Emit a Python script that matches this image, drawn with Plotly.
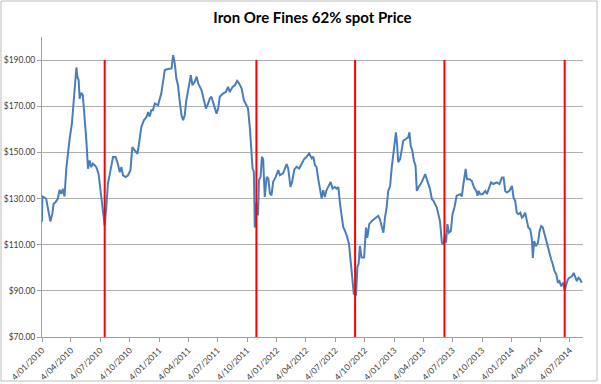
import plotly.graph_objects as go

dates = [
 "2010-01-04","2010-01-05","2010-01-17","2010-01-22","2010-01-30","2010-02-05","2010-02-09","2010-02-15","2010-02-22","2010-02-28",
 "2010-03-05","2010-03-10","2010-03-15","2010-03-21","2010-03-26","2010-03-31","2010-04-07","2010-04-10","2010-04-15","2010-04-21",
 "2010-04-24","2010-04-28","2010-05-01","2010-05-06","2010-05-11","2010-05-17","2010-05-22","2010-05-27","2010-06-01","2010-06-06",
 "2010-06-11","2010-06-17","2010-06-22","2010-06-29","2010-07-05","2010-07-13","2010-07-18","2010-07-23","2010-07-28","2010-08-05",
 "2010-08-13","2010-08-21","2010-08-28","2010-09-03","2010-09-08","2010-09-13","2010-09-21","2010-09-28","2010-10-06","2010-10-12",
 "2010-10-19","2010-10-28","2010-11-04","2010-11-09","2010-11-17","2010-11-25","2010-11-30","2010-12-05","2010-12-10","2010-12-15",
 "2010-12-21","2010-12-31","2011-01-10","2011-01-15","2011-01-21","2011-01-31","2011-02-11","2011-02-16","2011-02-21","2011-02-26",
 "2011-03-03","2011-03-08","2011-03-14","2011-03-19","2011-03-24","2011-03-29","2011-04-06","2011-04-12","2011-04-17","2011-04-24",
 "2011-04-30","2011-05-05","2011-05-15","2011-05-20","2011-05-29","2011-06-05","2011-06-10","2011-06-15","2011-06-20","2011-06-26",
 "2011-07-01","2011-07-06","2011-07-11","2011-07-21","2011-07-30","2011-08-06","2011-08-11","2011-08-20","2011-08-27","2011-09-03",
 "2011-09-09","2011-09-17","2011-09-24","2011-10-02","2011-10-07","2011-10-13","2011-10-18","2011-10-21","2011-10-25","2011-10-28",
 "2011-11-02","2011-11-07","2011-11-10","2011-11-15","2011-11-19","2011-11-23","2011-11-28","2011-12-04","2011-12-09","2011-12-14",
 "2011-12-19","2011-12-24","2012-01-01","2012-01-09","2012-01-14","2012-01-24","2012-02-04","2012-02-09","2012-02-16","2012-02-21",
 "2012-02-28","2012-03-06","2012-03-14","2012-03-22","2012-03-29","2012-04-06","2012-04-14","2012-04-22","2012-04-27","2012-05-02",
 "2012-05-07","2012-05-12","2012-05-18","2012-05-23","2012-05-28","2012-06-02","2012-06-07","2012-06-12","2012-06-20","2012-06-26",
 "2012-07-03","2012-07-09","2012-07-14","2012-07-19","2012-07-24","2012-07-29","2012-08-03","2012-08-09","2012-08-16","2012-08-21",
 "2012-08-26","2012-08-31","2012-09-07","2012-09-11","2012-09-15","2012-09-19","2012-09-24","2012-10-02","2012-10-08","2012-10-12",
 "2012-10-18","2012-10-26","2012-11-02","2012-11-10","2012-11-15","2012-11-20","2012-11-26","2012-12-01","2012-12-06","2012-12-11",
 "2012-12-16","2012-12-22","2012-12-27","2013-01-01","2013-01-04","2013-01-09","2013-01-13","2013-01-16","2013-01-22","2013-01-27",
 "2013-02-01","2013-02-09","2013-02-16","2013-02-20","2013-02-24","2013-03-01","2013-03-06","2013-03-11","2013-03-15","2013-03-20",
 "2013-03-30","2013-04-10","2013-04-15","2013-04-25","2013-05-01","2013-05-06","2013-05-16","2013-05-21","2013-05-26","2013-06-01",
 "2013-06-06","2013-06-11","2013-06-14","2013-06-18","2013-06-23","2013-06-29","2013-07-04","2013-07-10","2013-07-17","2013-07-28",
 "2013-08-02","2013-08-07","2013-08-14","2013-08-18","2013-08-26","2013-09-02","2013-09-09","2013-09-16","2013-09-20","2013-09-23",
 "2013-09-28","2013-10-06","2013-10-14","2013-10-19","2013-10-27","2013-11-01","2013-11-08","2013-11-19","2013-11-27","2013-12-05",
 "2013-12-10","2013-12-15","2013-12-20","2013-12-28","2014-01-05","2014-01-10","2014-01-15","2014-01-20","2014-01-25","2014-01-31",
 "2014-02-05","2014-02-10","2014-02-15","2014-02-20","2014-02-25","2014-03-03","2014-03-08","2014-03-11","2014-03-15","2014-03-21",
 "2014-03-27","2014-04-01","2014-04-06","2014-04-11","2014-04-16","2014-04-22","2014-04-27","2014-05-02","2014-05-07","2014-05-12",
 "2014-05-17","2014-05-23","2014-05-28","2014-06-02","2014-06-07","2014-06-13","2014-06-18","2014-06-23","2014-06-28","2014-07-03",
 "2014-07-11","2014-07-16","2014-07-21","2014-07-26","2014-07-31","2014-08-05","2014-08-10",
]

prices = [
 120.0,131.0,129.9,126.2,120.1,123.3,127.7,128.4,129.9,133.8,
 132.0,134.2,130.9,143.6,150.9,155.9,162.5,167.5,177.7,186.8,
 182.8,181.3,173.3,175.8,174.8,165.3,155.2,142.9,146.5,143.6,
 145.1,144.4,143.6,140.7,133.5,121.9,118.3,126.2,136.4,142.2,
 148.0,148.0,145.1,141.4,143.6,140.0,139.3,140.0,142.2,152.3,
 150.9,149.4,155.9,161.0,163.9,165.3,167.5,165.5,168.3,168.3,
 171.2,170.4,175.5,179.9,185.7,186.1,186.4,192.2,188.6,182.0,
 179.1,172.6,166.1,163.9,166.1,172.6,179.9,183.5,179.1,180.6,
 182.8,179.9,177.0,174.1,169.0,171.2,173.3,174.1,171.9,169.0,
 166.8,169.0,174.1,175.5,176.2,178.4,176.2,178.4,179.1,181.0,
 179.9,177.7,172.6,170.4,169.0,160.0,150.9,143.0,141.6,117.5,
 128.0,122.7,138.0,139.4,148.1,147.0,130.7,139.4,138.7,132.2,
 131.4,137.2,139.4,142.3,140.1,140.9,144.9,143.0,135.0,137.2,
 142.6,143.7,143.0,145.2,147.0,148.1,149.6,147.4,148.1,144.5,
 143.7,138.7,132.9,130.0,133.6,130.7,133.6,135.0,137.2,134.3,
 135.0,134.3,135.0,127.8,123.5,117.7,116.2,114.0,110.4,103.2,
 95.9,88.7,88.0,100.3,101.7,109.5,104.4,104.4,117.4,113.0,
 118.9,120.3,121.0,121.7,122.5,121.0,118.1,115.2,121.7,126.1,
 133.3,135.5,143.5,149.3,153.7,158.7,152.9,145.7,147.1,152.2,
 155.1,155.8,156.5,158.7,152.9,150.7,146.4,144.2,133.3,134.8,
 137.0,140.6,138.4,134.1,129.7,129.0,126.1,123.2,120.3,110.9,
 110.2,114.5,110.9,118.9,115.2,115.9,123.2,126.1,131.2,131.9,
 130.9,136.3,142.8,138.4,138.4,137.7,134.8,133.3,131.2,133.3,
 131.9,131.9,133.3,131.9,134.8,137.0,136.3,137.0,136.3,139.1,
 139.1,133.3,132.6,133.3,135.5,130.4,129.0,123.9,123.2,123.9,
 121.7,122.4,123.9,120.3,117.4,116.7,112.3,104.3,111.6,109.4,
 110.9,116.0,118.1,117.4,114.5,111.6,108.7,105.8,103.6,101.5,
 98.6,97.1,93.5,94.2,92.0,93.5,90.0,92.8,95.0,95.7,
 96.4,97.8,95.7,94.2,95.7,95.0,93.5,
]

marker_dates = ["2010-07-18", "2011-11-02", "2012-09-04", "2013-06-09", "2014-06-18"]

tick_dates = ["2010-01-04","2010-04-04","2010-07-04","2010-10-04",
              "2011-01-04","2011-04-04","2011-07-04","2011-10-04",
              "2012-01-04","2012-04-04","2012-07-04","2012-10-04",
              "2013-01-04","2013-04-04","2013-07-04","2013-10-04",
              "2014-01-04","2014-04-04","2014-07-04"]
tick_labels = ["4/01/2010","4/04/2010","4/07/2010","4/10/2010",
               "4/01/2011","4/04/2011","4/07/2011","4/10/2011",
               "4/01/2012","4/04/2012","4/07/2012","4/10/2012",
               "4/01/2013","4/04/2013","4/07/2013","4/10/2013",
               "4/01/2014","4/04/2014","4/07/2014"]
y_ticks = [70, 90, 110, 130, 150, 170, 190]
y_labels = ["$70.00", "$90.00", "$110.00", "$130.00", "$150.00", "$170.00", "$190.00"]

fig = go.Figure()
fig.add_trace(go.Scatter(x=dates, y=prices, mode="lines",
                         line=dict(color="#4a7ebb", width=2), showlegend=False,
                         hoverinfo="x+y"))

shapes = []
for d in marker_dates:
    shapes.append(dict(type="line", xref="x", yref="y", x0=d, x1=d, y0=70, y1=190,
                       line=dict(color="#ff0000", width=2), layer="above"))

L, R, T, B = 42, 18, 37, 47
W, H = 601, 384
pw, ph = W - L - R, H - T - B
shapes.append(dict(type="rect", xref="paper", yref="paper",
                   x0=(1 - L) / pw, x1=(597 - L) / pw,
                   y0=(H - B - 381) / ph, y1=(H - B - 1) / ph,
                   line=dict(color="#bdbdbd", width=1), layer="below"))

fig.update_layout(
    width=W, height=H,
    margin=dict(l=L, r=R, t=T, b=B, autoexpand=False),
    paper_bgcolor="white", plot_bgcolor="white",
    title=dict(text="<b>Iron Ore Fines 62% spot Price</b>", x=0.5, xref="paper",
               y=1 - 18 / H, yanchor="middle",
               font=dict(family="Lato, Open Sans, sans-serif", size=15, color="#000000")),
    font=dict(family="Lato, Open Sans, sans-serif", size=9, color="#404040"),
    shapes=shapes,
    xaxis=dict(type="date", range=["2010-01-04", "2014-08-14"], automargin=False,
               tickvals=tick_dates, ticktext=tick_labels, tickangle=-45,
               showgrid=False, showline=True, linecolor="#a0a0a0", linewidth=1,
               ticks="outside", ticklen=4, tickcolor="#a0a0a0", zeroline=False,
               tickfont=dict(size=8.5, color="#404040")),
    yaxis=dict(range=[70, 200], automargin=False, tickvals=y_ticks, ticktext=y_labels,
               showgrid=True, gridcolor="#b0b0b0", gridwidth=1,
               showline=True, linecolor="#a0a0a0", linewidth=1,
               ticks="outside", ticklen=4, tickcolor="#a0a0a0", zeroline=False,
               tickfont=dict(size=8.5, color="#404040")),
)

fig.write_html("out.html", config={"displayModeBar": False},
               post_script="document.body.style.margin='0px';document.body.style.overflow='hidden';")
